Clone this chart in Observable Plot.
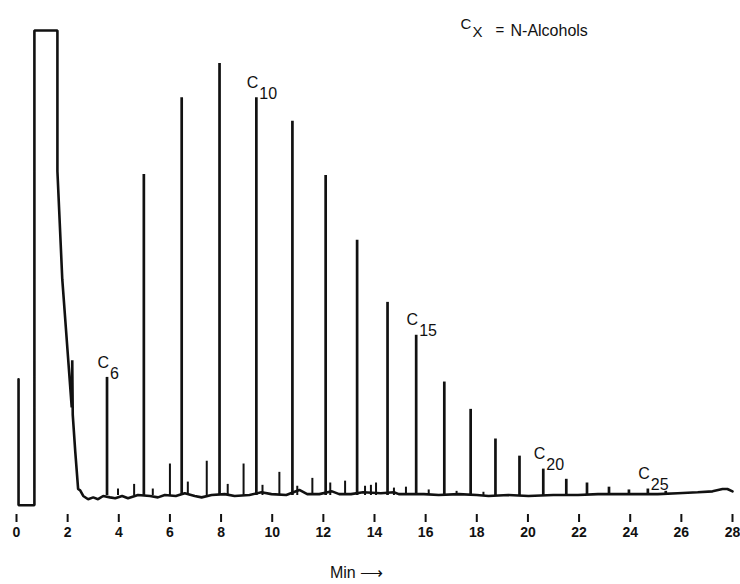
<!DOCTYPE html>
<html>
<head>
<meta charset="utf-8">
<script src="https://cdn.jsdelivr.net/npm/d3@7"></script>
<script src="https://cdn.jsdelivr.net/npm/@observablehq/plot@0.6"></script>
<style>
html, body { margin: 0; padding: 0; background: #fff; }
#chart { width: 740px; height: 584px; }
#chart svg text { font-family: 'Liberation Sans', Arial, sans-serif; }
</style>
</head>
<body>
<div id="chart"></div>
<script>
// n-alcohol peaks (carbon number, retention time in min, peak height in % of full scale)
const carbonNumbers = [6, 7, 8, 9, 10, 11, 12, 13, 14, 15, 16, 17, 18, 19, 20, 21, 22, 23, 24, 25, 26];
const alcoholTimes  = [3.54, 4.98, 6.46, 7.94, 9.38, 10.79, 12.09, 13.32, 14.51, 15.63, 16.73, 17.76, 18.73, 19.67, 20.60, 21.50, 22.31, 23.17, 23.95, 24.69, 25.39];
const alcoholHeights = [25.1, 68.9, 85.5, 92.9, 85.5, 80.4, 68.7, 54.7, 41.3, 34.2, 24.1, 18.2, 11.8, 8.1, 5.3, 3.1, 2.3, 1.4, 0.8, 1.0, 0.5];
const labelledCarbons = [6, 10, 15, 20, 25];

// minor (unlabelled) peaks
const minorTimes   = [3.97, 4.60, 5.33, 6.00, 6.70, 7.44, 8.26, 8.88, 9.62, 10.28, 10.98, 11.57, 12.27, 12.85, 13.63, 13.86, 14.06, 14.76, 15.23, 16.12, 17.21, 18.26];
const minorHeights = [1.0, 2.0, 1.0, 6.4, 2.5, 7.0, 2.0, 6.4, 1.8, 4.6, 1.6, 3.3, 2.3, 2.7, 1.6, 1.8, 2.3, 1.2, 1.4, 0.8, 0.5, 0.3];

// detector trace: solvent front (off scale), its tail and the baseline
const traceTimes = [0.08, 0.08, 0.70, 0.70, 1.60, 1.60, 1.79, 2.16, 2.18, 2.20, 2.30, 2.41, 2.49,
  2.61, 2.80, 3.00, 3.19, 3.39, 3.66, 3.86, 4.13, 4.36, 4.75, 5.22, 5.53, 5.80, 6.23, 6.58, 6.97,
  7.24, 7.63, 8.14, 8.53, 9.11, 9.58, 9.97, 10.55, 11.06, 11.37, 11.84, 12.34, 12.62, 13.08, 13.55,
  14.25, 14.76, 14.95, 15.42, 15.93, 16.51, 17.29, 18.00, 18.46, 19.24, 20.02, 20.99, 21.96, 22.74,
  23.52, 24.30, 25.08, 25.86, 26.64, 27.22, 27.61, 27.80, 28.00];
const traceSignals = [24.7, -2.5, -2.5, 100, 100, 69.6, 46.3, 18.6, 28.8, 17.0, 8.9, 1.0, 0.7,
  -0.5, -1.2, -0.8, -1.2, -0.5, -0.8, -1.0, -0.5, -1.0, -0.3, -0.5, -0.8, -0.3, -0.5, 0.1, -0.5,
  -0.8, -0.3, -0.1, -0.5, -0.3, 0.3, -0.1, -0.3, 0.8, -0.1, -0.1, 0.5, -0.1, -0.1, 0.3,
  0.1, 0.3, -0.1, -0.1, -0.1, -0.3, -0.1, -0.3, -0.5, -0.3, -0.5, -0.3, -0.3, -0.1,
  -0.1, -0.1, -0.1, 0.1, 0.3, 0.5, 1.0, 1.0, 0.5];

const tickMinutes = [0, 2, 4, 6, 8, 10, 12, 14, 16, 18, 20, 22, 24, 26, 28];

// tables built from the arrays
const trace = traceTimes.map((t, i) => ({time: t, signal: traceSignals[i]}));
const alcohols = carbonNumbers.map((n, i) => ({n, time: alcoholTimes[i], height: alcoholHeights[i]}));
const minors = minorTimes.map((t, i) => ({time: t, height: minorHeights[i]}));
const labelled = alcohols.filter(d => labelledCarbons.includes(d.n));

const baseLevel = () => -0.4;

const chart = Plot.plot({
  width: 740,
  height: 584,
  marginLeft: 16,
  marginRight: 8,
  marginTop: 30,
  marginBottom: 70,
  style: {fontSize: "16px", color: "#111", background: "#fff", overflow: "visible"},
  x: {domain: [0, 28]},
  y: {domain: [-4.5, 100], axis: null},
  marks: [
    Plot.axisX({ticks: tickMinutes, tickSize: 8, tickPadding: 5, strokeWidth: 2, label: null,
      tickFormat: d => String(d), fontSize: 14, fontWeight: "bold"}),
    Plot.line(trace, {x: "time", y: "signal", stroke: "#111", strokeWidth: 2.6, strokeLinejoin: "miter"}),
    Plot.ruleX(minors, {x: "time", y1: baseLevel, y2: "height", stroke: "#111", strokeWidth: 2}),
    Plot.ruleX(alcohols, {x: "time", y1: baseLevel, y2: "height", stroke: "#111", strokeWidth: 2.7}),
    Plot.text(labelled, {x: "time", y: "height", text: () => "C", textAnchor: "end", dx: 2, dy: -15,
      fontSize: 16, fill: "#111"}),
    Plot.text(labelled, {x: "time", y: "height", text: d => String(d.n), textAnchor: "start", dx: 3, dy: -4,
      fontSize: 16, fill: "#111"}),
    // legend
    Plot.text([null], {frameAnchor: "top-left", text: () => "C", textAnchor: "start", dx: 444, dy: -12, fontSize: 15, fill: "#111"}),
    Plot.text([null], {frameAnchor: "top-left", text: () => "X", textAnchor: "start", dx: 456, dy: -4, fontSize: 15, fill: "#111"}),
    Plot.text([null], {frameAnchor: "top-left", text: () => "=", textAnchor: "start", dx: 479, dy: -6, fontSize: 15, fill: "#111"}),
    Plot.text([null], {frameAnchor: "top-left", text: () => "N-Alcohols", textAnchor: "start", dx: 494, dy: -6, fontSize: 16, fill: "#111"}),
    // axis title
    Plot.text([null], {frameAnchor: "bottom", text: () => "Min \u27F6", dx: -18, dy: 63, fontSize: 16, fill: "#111"})
  ]
});
document.getElementById("chart").append(chart);
</script>
</body>
</html>
